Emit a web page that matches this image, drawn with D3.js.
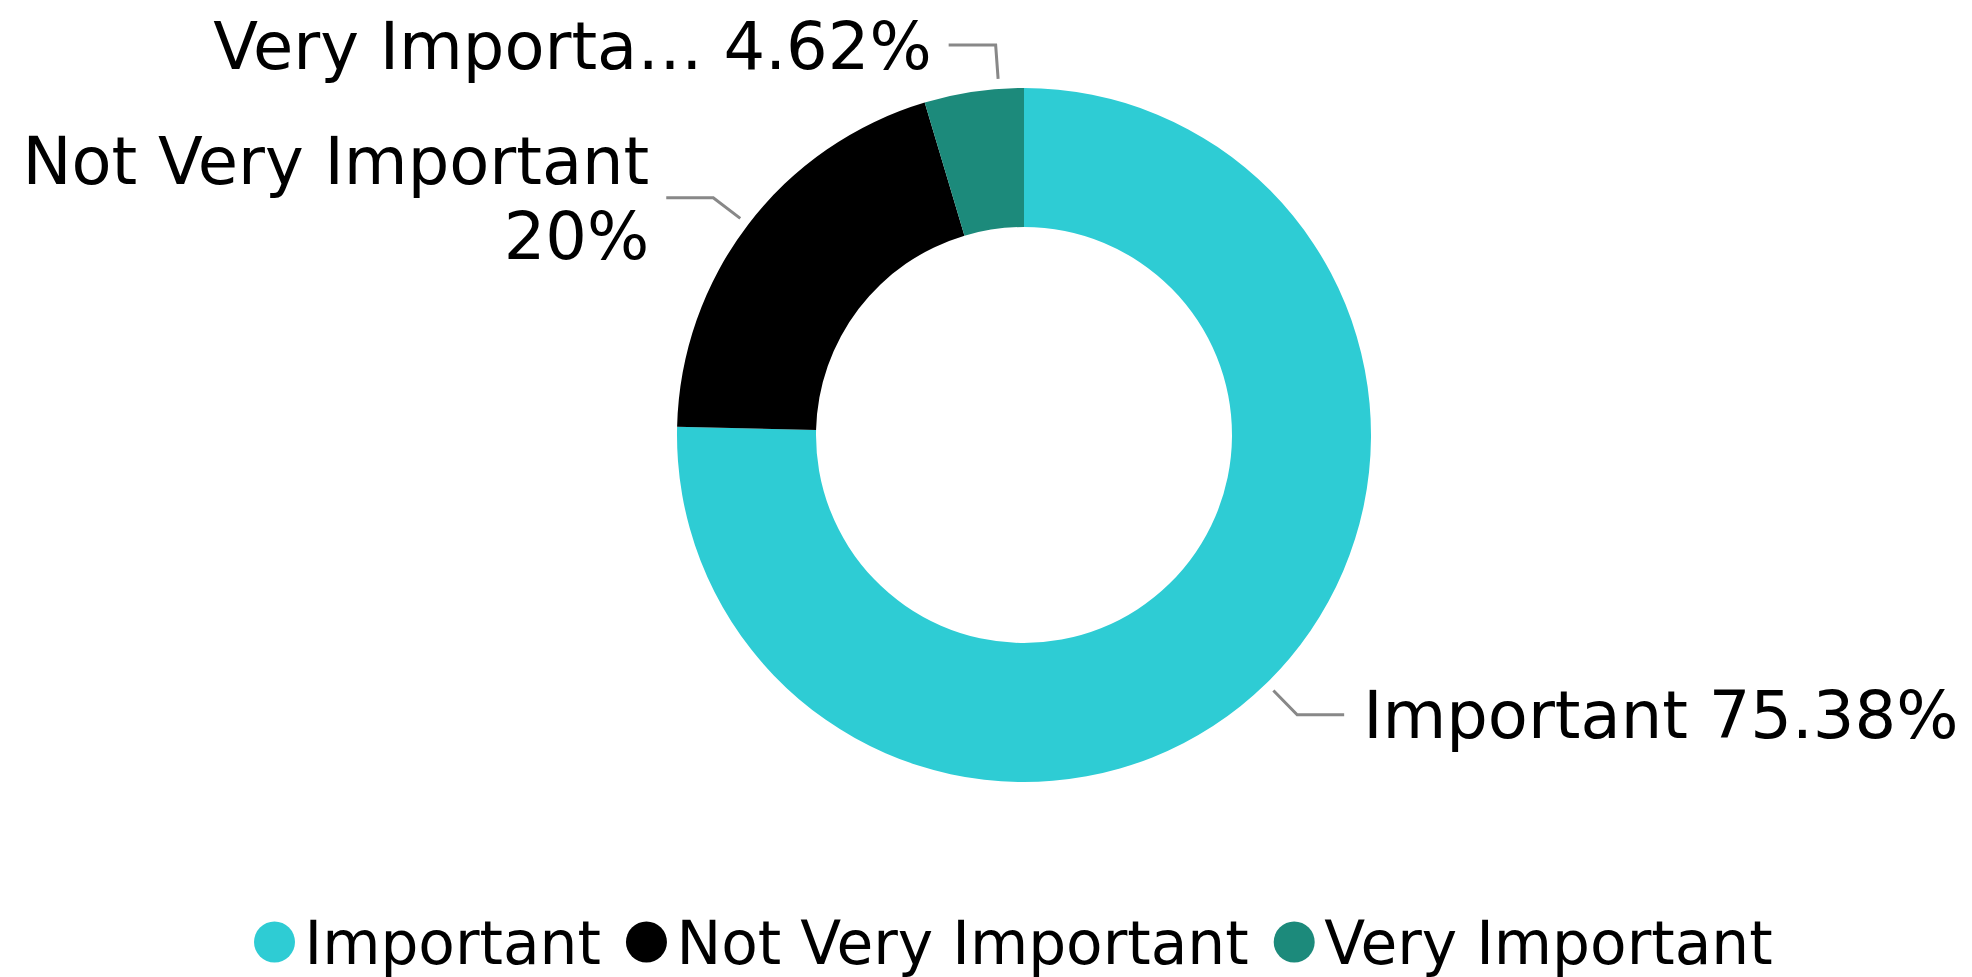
<!DOCTYPE html>
<html>
<head>
<meta charset="utf-8">
<script src="https://cdn.jsdelivr.net/npm/d3@7"></script>
<style>
  html, body { margin: 0; padding: 0; background: #fff; }
  svg { display: block; }
  text { font-family: "DejaVu Sans", Verdana, sans-serif; fill: #000; }
</style>
</head>
<body>
<svg id="chart" width="1972" height="977"></svg>
<script>
const categories = ["Important", "Not Very Important", "Very Important"];
const values = [75.38, 20, 4.62];
const labelTexts = [["Important 75.38%"], ["Not Very Important", "20%"], ["Very Importa\u2026 4.62%"]];
const colors = ["#2ECCD4", "#000000", "#1C8A7B"];

const W = 1972, H = 977;
const cx = 1024, cy = 435;
const rOuter = 347, rInner = 208;

const svg = d3.select("#chart");
const g = svg.append("g").attr("transform", `translate(${cx},${cy})`);

const color = d3.scaleOrdinal().domain(categories).range(colors);
const pie = d3.pie().sort(null).value(d => d.value);
const data = categories.map((c, i) => ({ cat: c, value: values[i], lines: labelTexts[i] }));
const arcs = pie(data);

const arc = d3.arc().innerRadius(rInner).outerRadius(rOuter);
g.selectAll("path.slice").data(arcs).enter().append("path")
  .attr("class", "slice")
  .attr("d", arc)
  .attr("fill", d => color(d.data.cat));

// leader lines + labels
const fontSize = 65.5;
const lineH = 75;
const pt = (a, r) => [r * Math.sin(a), -r * Math.cos(a)];
arcs.forEach(d => {
  const span = d.endAngle - d.startAngle;
  // small slices: leader anchored closer to the slice end
  const a = span < 0.1 * 2 * Math.PI ? d.startAngle + 0.75 * span : (d.startAngle + d.endAngle) / 2;
  const p0 = pt(a, 357);
  const p1 = pt(a, 391);
  const right = Math.sin((d.startAngle + d.endAngle) / 2) > 0;
  const p2 = [p1[0] + (right ? 47 : -47), p1[1]];
  g.append("polyline")
    .attr("points", [p0, p1, p2].map(p => p.join(",")).join(" "))
    .attr("fill", "none")
    .attr("stroke", "#888888")
    .attr("stroke-width", 3);
  const tx = p2[0] + (right ? 19 : -17);
  const n = d.data.lines.length;
  const t = g.append("text")
    .attr("text-anchor", right ? "start" : "end")
    .attr("font-size", fontSize);
  d.data.lines.forEach((ln, i) => {
    const yMid = p2[1] + (i - (n - 1) / 2) * lineH;
    t.append("tspan").attr("x", tx).attr("y", yMid + 0.36 * fontSize).text(ln);
  });
});

// legend
const legend = svg.append("g");
const legFont = 59.8, legR = 20.5, legY = 942;
let x = 254;
categories.forEach((c, i) => {
  legend.append("circle").attr("cx", x + legR).attr("cy", legY).attr("r", legR).attr("fill", color(c));
  const t = legend.append("text")
    .attr("x", x + 2 * legR + 9.5)
    .attr("y", 963.5)
    .attr("font-size", legFont)
    .text(c);
  x = x + 2 * legR + 9.5 + t.node().getComputedTextLength() + 25;
});
</script>
</body>
</html>
